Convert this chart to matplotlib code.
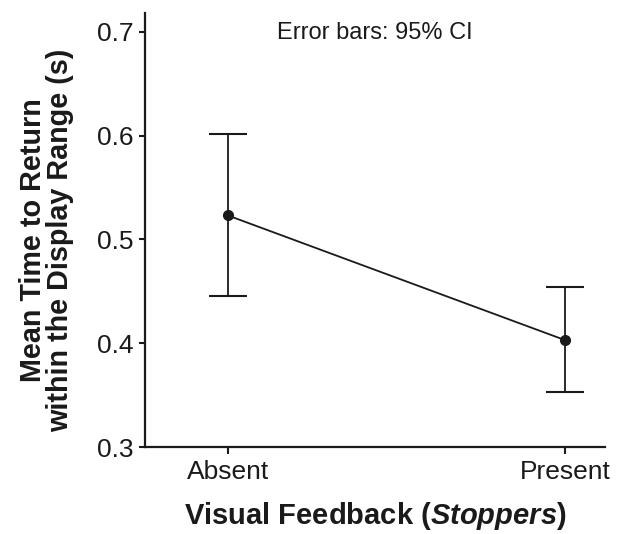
import matplotlib.pyplot as plt
import numpy as np

plt.rcParams['font.family'] = ['Liberation Sans', 'DejaVu Sans']
plt.rcParams['mathtext.fontset'] = 'custom'
plt.rcParams['mathtext.it'] = 'Liberation Sans:italic:bold'
plt.rcParams['mathtext.rm'] = 'Liberation Sans:bold'

conditions = ["Absent", "Present"]
means = [0.523, 0.403]
ci_low = [0.4455, 0.353]
ci_high = [0.6016, 0.454]

x = np.arange(len(conditions))
yerr = [np.array(means) - np.array(ci_low), np.array(ci_high) - np.array(means)]

fig = plt.figure(figsize=(6.2, 5.34), dpi=100)
ax = fig.add_axes([0.2339, 0.1629, 0.7419, 0.8128])

ax.errorbar(x, means, yerr=yerr, color="#1a1a1a", linewidth=1.3,
            elinewidth=1.3, capsize=14, capthick=1.5,
            marker="o", markersize=7)

ax.set_xlim(-0.246, 1.119)
ax.set_ylim(0.3, 0.718)
ax.set_yticks([0.3, 0.4, 0.5, 0.6, 0.7])
ax.set_xticks(x)
ax.set_xticklabels(conditions)

for side in ["top", "right"]:
    ax.spines[side].set_visible(False)
for side in ["left", "bottom"]:
    ax.spines[side].set_linewidth(1.6)
    ax.spines[side].set_color("#1a1a1a")

ax.tick_params(axis="y", length=4.5, width=1.5, pad=4, labelsize=19,
               colors="#1a1a1a")
ax.tick_params(axis="x", length=5, width=1.5, pad=4, labelsize=19,
               colors="#1a1a1a")

ax.set_xlabel("Visual Feedback ($\\mathit{Stoppers}$)", fontsize=21,
              fontweight="bold", color="#1a1a1a", labelpad=12)
ax.set_ylabel("Mean Time to Return\nwithin the Display Range (s)",
              fontsize=20.7, fontweight="bold", color="#1a1a1a",
              linespacing=0.95)
ax.yaxis.set_label_coords(-0.155, 0.477)

ax.text(0.5, 0.98, "Error bars: 95% CI", transform=ax.transAxes,
        ha="center", va="top", fontsize=17, color="#1a1a1a")

fig.savefig("out.png", dpi=100)
